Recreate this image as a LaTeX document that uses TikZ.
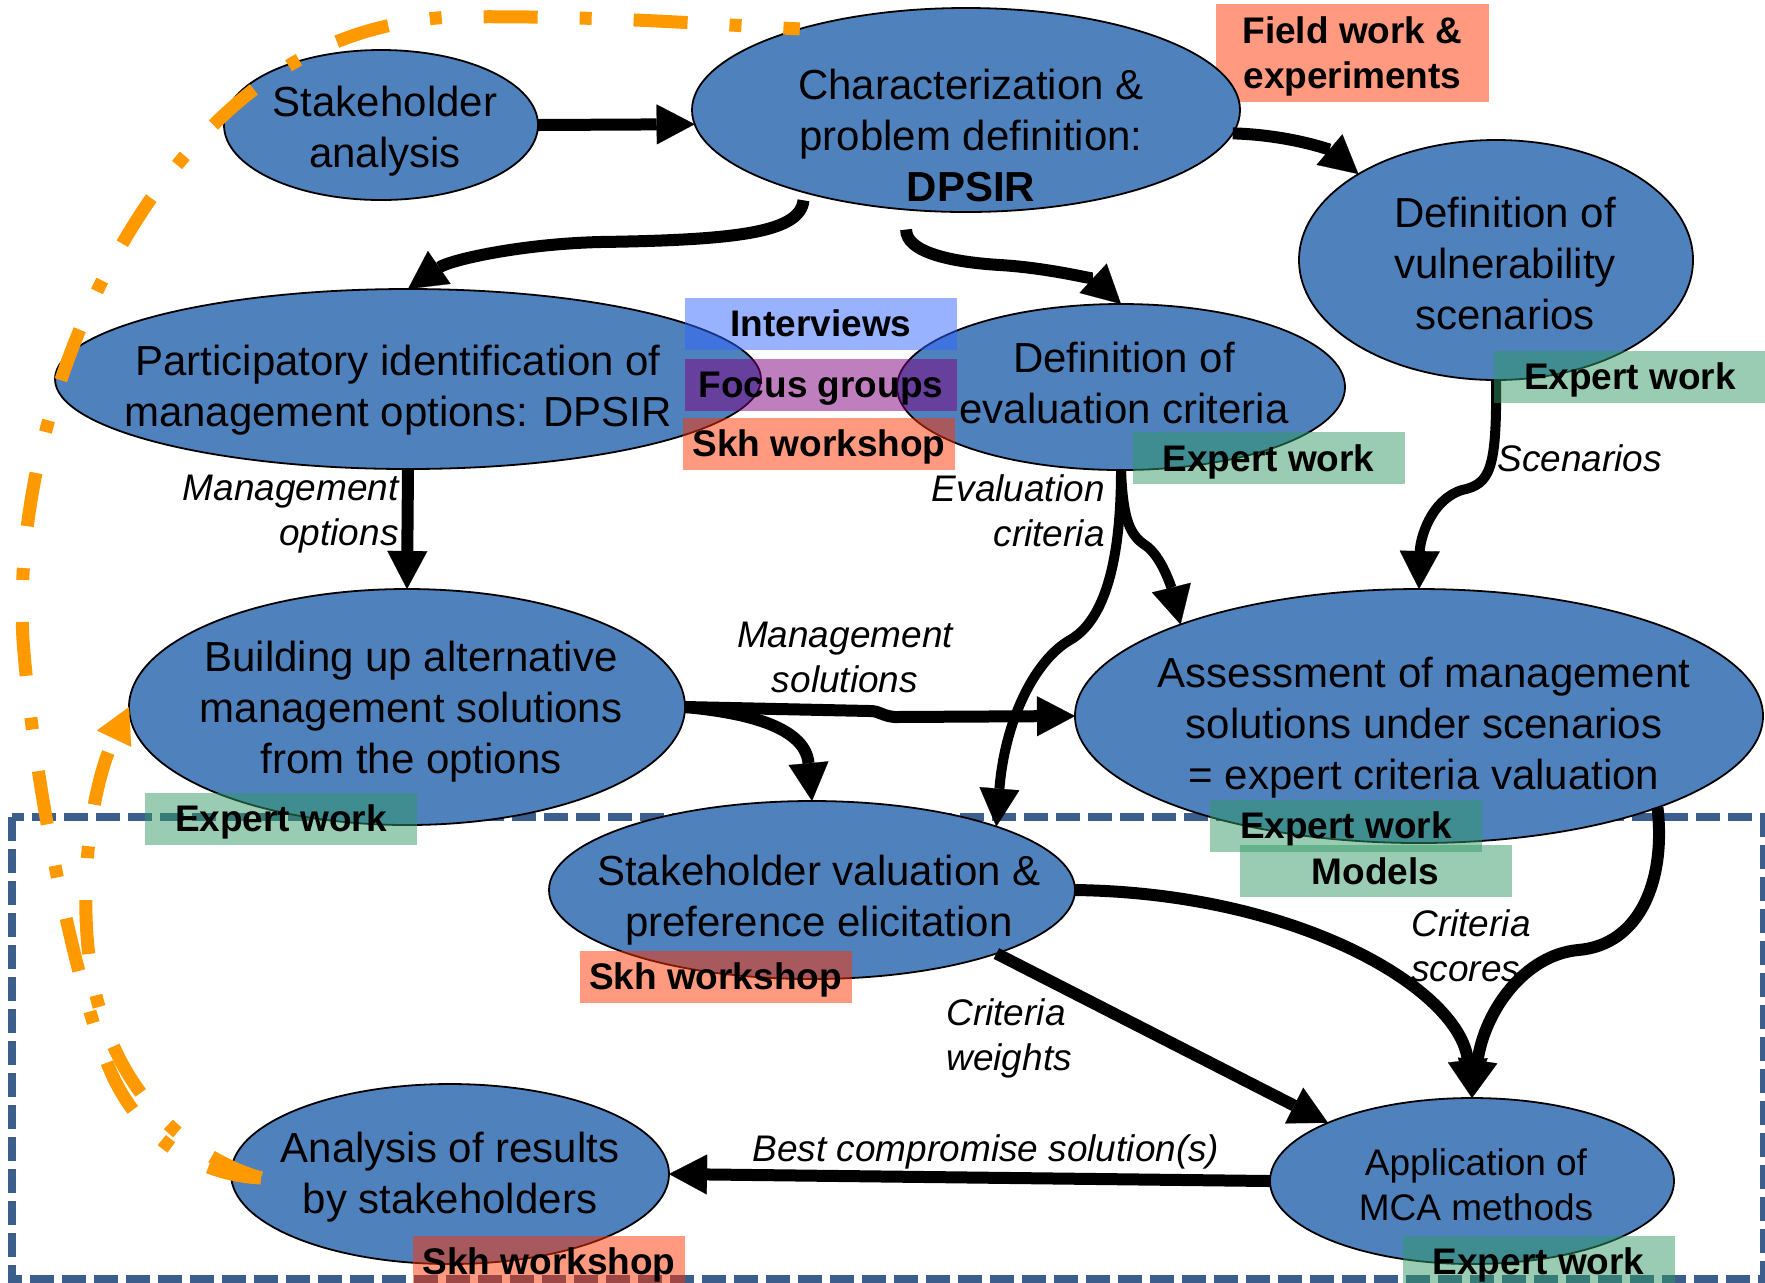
\documentclass[tikz,border=0pt]{standalone}
\usepackage{fontspec}
\setmainfont{Liberation Sans}
\usetikzlibrary{arrows.meta,shapes.geometric}
\definecolor{ellblue}{HTML}{4F81BD}
\definecolor{orng}{HTML}{FF9900}
\definecolor{framecol}{HTML}{3B5E8C}
\definecolor{cSalmon}{HTML}{FF3300}
\definecolor{cBlue}{HTML}{3366FF}
\definecolor{cPurple}{HTML}{800080}
\definecolor{cGreen}{HTML}{339966}
\begin{document}
\begin{tikzpicture}[x=0.5pt,y=-0.5pt,
  ell/.style={ellipse, draw=black, line width=0.9pt, fill=ellblue, inner sep=0pt, outer sep=0pt},
  etxt/.style={align=center, font=\fontsize{21}{25.5}\selectfont, inner sep=0pt},
  tag/.style={fill=#1, fill opacity=0.5, text opacity=1, draw=none,
    font=\fontsize{18.5}{22.5}\selectfont\bfseries, inner sep=0pt, align=center,
    text depth=0pt, minimum width=136pt, minimum height=26pt},
  lbl/.style={font=\fontsize{18.5}{22.5}\selectfont\itshape, inner sep=0pt},
  flow/.style={line width=6pt, -{Triangle[length=19pt,width=20pt,line width=0.1pt]}},
  thinflow/.style={line width=5pt, -{Triangle[length=19pt,width=20pt,line width=0.1pt]}},
  loopline/.style={orng, line width=6.5pt, dash pattern=on 27pt off 21pt on 6pt off 21pt}
]
\useasboundingbox (0,0) rectangle (1765,1282);

% dashed frame
\draw[framecol, line width=4pt, dash pattern=on 12pt off 4pt] (12,817) rectangle (1764,1279);

% tag lying behind the top ellipse
\node[tag=cSalmon, minimum width=136.5pt, minimum height=49pt] (fw) at (1352.5,53) {Field work \&\\experiments};

% ellipses
\node[ell, minimum width=157pt, minimum height=75pt] (SA) at (381,125) {};
\node[ell, minimum width=274pt, minimum height=102pt] (CH) at (966,110) {};
\node[ell, minimum width=197pt, minimum height=120pt] (DV) at (1496,260) {};
\node[ell, minimum width=353pt, minimum height=90pt] (PI) at (408,379) {};
\node[ell, minimum width=224pt, minimum height=83pt] (DE) at (1121,387) {};
\node[ell, minimum width=278pt, minimum height=118pt] (BU) at (407,707) {};
\node[ell, minimum width=344pt, minimum height=127pt] (AS) at (1419,716) {};
\node[ell, minimum width=263pt, minimum height=89pt] (SV) at (812,890) {};
\node[ell, minimum width=219pt, minimum height=90pt] (AR) at (450,1174) {};
\node[ell, minimum width=202pt, minimum height=83pt] (AM) at (1472,1181) {};

% black connectors
\draw[flow] (SA.east) -- (CH.183);
\draw[flow] (CH.-5) .. controls (1290,135) and (1330,150) .. (DV.148);
\draw[flow, shorten <=4pt] (CH.207) .. controls (800,232) and (740,240) .. (600,242)
   .. controls (520,244) and (450,260) .. (PI.north);
\draw[flow, shorten <=10pt] (CH.239) .. controls (906,252) and (950,262) .. (1000,265)
   .. controls (1050,268) and (1095,280) .. (DE.north);
\draw[flow] (PI.south) -- (BU.north);
\draw[thinflow] (DV.south) .. controls (1497,470) and (1490,484) .. (1462,490)
   .. controls (1430,500) and (1420,540) .. (AS.north);
\draw[thinflow] (DE.south) .. controls (1123,520) and (1130,535) .. (1145,545)
   .. controls (1162,556) and (1172,590) .. (AS.159);
\draw[thinflow] (DE.south) .. controls (1121,560) and (1105,620) .. (1070,640)
   .. controls (1035,660) and (1005,720) .. (SV.19);
\draw[flow] (BU.east) -- (870,711) .. controls (880,711) and (882,716) .. (895,717) -- (AS.west);
\draw[flow] (BU.east) .. controls (740,712) and (805,725) .. (SV.north);
\draw[flow] (SV.east) .. controls (1300,893) and (1460,990) .. (AM.north);
\draw[flow] (SV.-19) -- (AM.158);
\draw[flow] (AS.-21) .. controls (1666,880) and (1640,945) .. (1578,950)
   .. controls (1525,955) and (1485,1010) .. (AM.north);
\draw[flow] (AM.west) -- (AR.east);

% ellipse texts
\node[etxt] (SAt) at (385,131) {Stakeholder\\analysis};
\node[etxt] (CHt) at (971,135) {Characterization \&\\problem definition:\\\textbf{DPSIR}};
\node[etxt] (DVt) at (1505,263) {Definition of\\vulnerability\\scenarios};
\node[etxt] (PIt) at (398,390) {Participatory identification of\\management options: DPSIR};
\node[etxt] (DEt) at (1124,383) {Definition of\\evaluation criteria};
\node[etxt] (BUt) at (411,712) {Building up alternative\\management solutions\\from the options};
\node[etxt] (ASt) at (1424,727.5) {Assessment of management\\solutions under scenarios\\= expert criteria valuation};
\node[etxt] (SVt) at (819,900.5) {Stakeholder valuation \&\\preference elicitation};
\node[etxt] (ARt) at (450,1177) {Analysis of results\\by stakeholders};
\node[etxt, font=\fontsize{18.5}{22.5}\selectfont] (AMt) at (1476,1185) {Application of\\MCA methods};

% tags
\node[tag=cBlue] (iv) at (821,323.5) {Interviews};
\node[tag=cPurple] (fg) at (821,384.5) {Focus groups};
\node[tag=cSalmon] (sk1) at (819,443.5) {Skh workshop};
\node[tag=cGreen] (ew1) at (1268.5,458) {Expert work};
\node[tag=cGreen] (ew2) at (1630,376.5) {Expert work};
\node[tag=cGreen] (ew3) at (281,818.5) {Expert work};
\node[tag=cGreen] (ew4) at (1346,825.5) {Expert work};
\node[tag=cGreen] (mo) at (1375.5,871) {Models};
\node[tag=cSalmon] (sk2) at (715.5,976.5) {Skh workshop};
\node[tag=cSalmon] (sk3) at (549,1261.5) {Skh workshop};
\node[tag=cGreen] (ew5) at (1538.5,1261.5) {Expert work};

% connector labels
\node[lbl, anchor=east, align=right] (lMO) at (399,514) {Management\\options};
\node[lbl, anchor=east, align=right] (lEC) at (1105,511) {Evaluation\\criteria};
\node[lbl, anchor=west] (lSC) at (1497,458) {Scenarios};
\node[lbl, align=center] (lMS) at (845,657) {Management\\solutions};
\node[lbl, anchor=west, align=left] (lCS) at (1411,946) {Criteria\\scores};
\node[lbl, anchor=west, align=left] (lCW) at (946,1038.5) {Criteria\\weights};
\node[lbl] (lBC) at (986,1152) {Best compromise solution(s)};

% orange feedback loops
\coordinate (oS) at (261,1178);
\draw[loopline] (oS) .. controls (200,1175) and (140,1140) .. (110,1070)
   .. controls (80,1000) and (35,800) .. (23,640)
   .. controls (15,500) and (60,330) .. (150,200)
   .. controls (230,90) and (320,25) .. (450,17)
   .. controls (600,15) and (720,25) .. (CH.154);
\draw[loopline, -{Triangle[length=17.5pt,width=19pt,line width=0.1pt]}] (oS) .. controls (200,1160) and (130,1110) .. (100,1010)
   .. controls (75,930) and (85,800) .. (BU.west);
\end{tikzpicture}
\end{document}
